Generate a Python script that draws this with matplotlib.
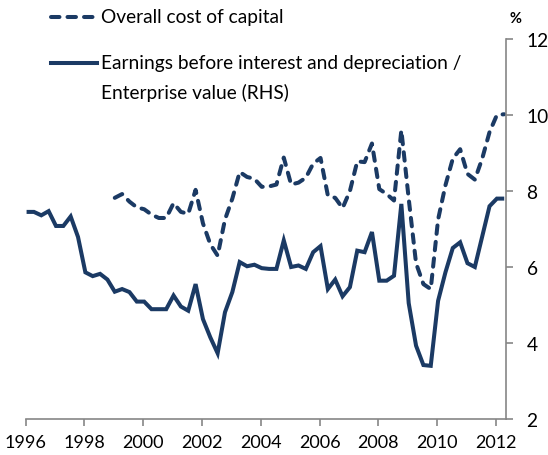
import matplotlib
matplotlib.use("Agg")
import matplotlib.pyplot as plt
from matplotlib.lines import Line2D
import numpy as np

plt.rcParams["font.family"] = ["Lato", "DejaVu Sans"]

# quarterly data, 1996Q1 - 2012Q2
start_year = 1996
ebitda_ev = [
    7.45, 7.45, 7.36, 7.47, 7.08, 7.08, 7.33, 6.79,
    5.86, 5.76, 5.82, 5.67, 5.35, 5.42, 5.34, 5.09,
    5.09, 4.89, 4.89, 4.89, 5.25, 4.96, 4.85, 5.55,
    4.63, 4.15, 3.73, 4.81, 5.34, 6.13, 6.02, 6.06,
    5.97, 5.95, 5.95, 6.70, 6.00, 6.04, 5.95, 6.39,
    6.55, 5.42, 5.67, 5.23, 5.47, 6.43, 6.39, 6.92,
    5.64, 5.64, 5.77, 7.66, 5.05, 3.93, 3.42, 3.40,
    5.11, 5.86, 6.50, 6.65, 6.10, 6.00, 6.80, 7.60,
    7.80, 7.80,
]
# cost of capital starts 1999Q1
cost_start = 12
cost_of_capital = [
    7.82, 7.92, 7.72, 7.57, 7.52, 7.38, 7.29, 7.29,
    7.68, 7.45, 7.40, 8.03, 7.15, 6.60, 6.30, 7.25,
    7.80, 8.50, 8.37, 8.32, 8.11, 8.12, 8.17, 8.88,
    8.17, 8.22, 8.35, 8.72, 8.87, 7.88, 7.82, 7.55,
    8.00, 8.78, 8.76, 9.25, 8.05, 7.92, 7.75, 9.60,
    7.80, 6.10, 5.55, 5.42, 7.25, 8.15, 8.85, 9.10,
    8.45, 8.30, 8.85, 9.55, 10.00, 10.02,
]
year_ticks = list(range(1996, 2013, 2))
value_ticks = [2, 4, 6, 8, 10, 12]

navy = "#1b3a64"
grey = "#868686"
fs = 13.8

x_ebitda = start_year + np.arange(len(ebitda_ev)) / 4 + 0.03
x_cost = start_year + (cost_start + np.arange(len(cost_of_capital))) / 4 + 0.03

fig = plt.figure(figsize=(5.48, 4.56), dpi=100)
ax = fig.add_axes([0.0469, 0.0789, 0.8759, 0.8334])

ax.plot(x_cost, cost_of_capital, color=navy, linewidth=2.9,
        linestyle=(0, (2.1, 2.0)), dash_capstyle="round", solid_joinstyle="round")
ax.plot(x_ebitda, ebitda_ev, color=navy, linewidth=2.9,
        solid_capstyle="butt", solid_joinstyle="miter")

ax.set_xlim(1996, 2012.33)
ax.set_ylim(2, 12)
ax.set_xticks(year_ticks)
ax.set_xticklabels([str(y) for y in year_ticks])
ax.yaxis.tick_right()
ax.set_yticks(value_ticks)

for side in ["left", "top"]:
    ax.spines[side].set_visible(False)
for side in ["right", "bottom"]:
    ax.spines[side].set_color(grey)
    ax.spines[side].set_linewidth(1.2)

ax.tick_params(axis="x", direction="out", length=5, width=1.2, color=grey,
               labelsize=13, pad=6)
ax.tick_params(axis="y", direction="out", length=5, width=1.2, color=grey,
               labelsize=fs, pad=10)

fig.text(515 / 548, 1 - 19 / 456, "%", fontsize=10.5, fontweight="bold",
         ha="center", va="center")

# legend drawn by hand so the handle sits on the first text line
def legend_entry(y_px, dashed):
    y = 1 - y_px / 456
    style = dict(color=navy, linewidth=2.9)
    if dashed:
        style.update(linestyle=(0, (2.1, 2.0)), dash_capstyle="round")
    fig.add_artist(Line2D([51 / 548, 97 / 548], [y, y], transform=fig.transFigure, **style))

legend_entry(18, True)
legend_entry(64, False)
fig.text(101 / 548, 1 - 18 / 456, "Overall cost of capital", fontsize=fs, va="center")
fig.text(101 / 548, 1 - 64 / 456, "Earnings before interest and depreciation /",
         fontsize=fs, va="center")
fig.text(101 / 548, 1 - 93 / 456, "Enterprise value (RHS)", fontsize=fs, va="center")

fig.savefig("out.png", dpi=100)
